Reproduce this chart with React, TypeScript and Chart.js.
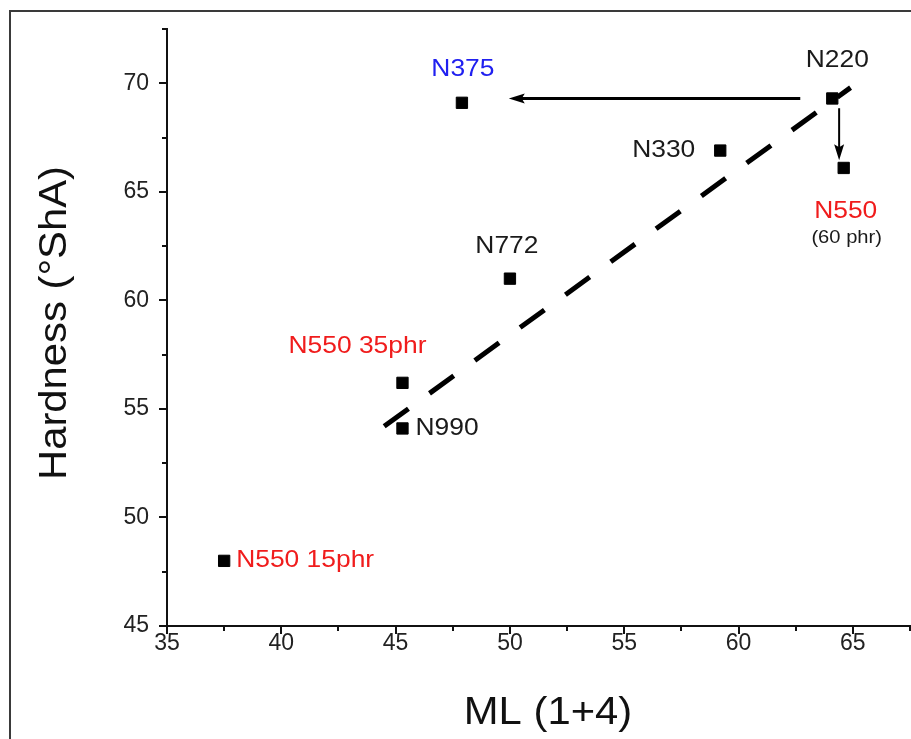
import React, { useEffect, useRef } from "react";
import { Chart, registerables } from "chart.js";

Chart.register(...registerables);

// ---- data ----
const grades = ["N220", "N375", "N330", "N550", "N772", "N550 35phr", "N990", "N550 15phr"];
const subLabels = ["", "", "", "(60 phr)", "", "", "", ""];
const mooneyML = [64.1, 47.9, 59.2, 64.6, 50.0, 45.3, 45.3, 37.5];
const hardnessShA = [69.3, 69.1, 66.9, 66.1, 61.0, 56.2, 54.1, 48.0];
const labelColors = ["#1a1a1a", "#2020f0", "#1a1a1a", "#f01c1c", "#1a1a1a", "#f01c1c", "#1a1a1a", "#f01c1c"];

const trendX = [44.5, 64.9];
const trendY = [54.2, 69.8];

const arrowFromX = [62.7, 64.4];
const arrowFromY = [69.3, 68.85];
const arrowToX = [49.95, 64.4];
const arrowToY = [69.3, 66.45];

const xTickLabels = [35, 40, 45, 50, 55, 60, 65];
const yTickLabels = [45, 50, 55, 60, 65, 70];

const xTitle = "ML (1+4)";
const yTitle = "Hardness (°ShA)";

const FONT = "'Liberation Sans', Arial, sans-serif";

// label placement relative to each point (pixels)
const labelPlacement: { dx: number; dy: number; align: CanvasTextAlign }[] = [
  { dx: 5, dy: -38, align: "center" },
  { dx: 1, dy: -33, align: "center" },
  { dx: -25, dy: 0, align: "right" },
  { dx: 2, dy: 43, align: "center" },
  { dx: -3, dy: -32, align: "center" },
  { dx: -45, dy: -36, align: "center" },
  { dx: 13, dy: 0, align: "left" },
  { dx: 12, dy: 0, align: "left" },
];

function scaledText(ctx: any, text: string, x: number, y: number, align: CanvasTextAlign, sx: number) {
  ctx.save();
  ctx.translate(x, y);
  ctx.scale(sx, 1);
  ctx.textAlign = align;
  ctx.fillText(text, 0, 0);
  ctx.restore();
}

const framePlugin = {
  id: "frame",
  beforeDraw(chart: any) {
    const ctx = chart.ctx;
    ctx.save();
    ctx.fillStyle = "#ffffff";
    ctx.fillRect(0, 0, chart.width, chart.height);
    ctx.strokeStyle = "#3a3a3a";
    ctx.lineWidth = 2;
    ctx.beginPath();
    ctx.moveTo(10, chart.height);
    ctx.lineTo(10, 11);
    ctx.lineTo(chart.width, 11);
    ctx.stroke();
    ctx.restore();
  },
};

const ticksPlugin = {
  id: "customTicks",
  afterDraw(chart: any) {
    const ctx = chart.ctx;
    const xs = chart.scales.x;
    const ys = chart.scales.y;
    const area = chart.chartArea;
    ctx.save();
    ctx.strokeStyle = "#111";
    ctx.lineWidth = 2;
    ctx.beginPath();
    for (let v = xs.min; v <= xs.max + 1e-6; v += 2.5) {
      const px = Math.round(xs.getPixelForValue(v));
      const len = Math.abs(v % 5) < 1e-6 ? 8 : 5;
      ctx.moveTo(px, area.bottom);
      ctx.lineTo(px, area.bottom + len);
    }
    for (let v = ys.min; v <= ys.max + 1e-6; v += 2.5) {
      const py = Math.round(ys.getPixelForValue(v));
      const len = Math.abs(v % 5) < 1e-6 ? 8 : 5;
      ctx.moveTo(area.left, py);
      ctx.lineTo(area.left - len, py);
    }
    ctx.stroke();

    // axis titles
    ctx.fillStyle = "#111";
    ctx.font = `38px ${FONT}`;
    ctx.textBaseline = "middle";
    scaledText(ctx, xTitle, 548, 714, "center", 1.1);
    ctx.save();
    ctx.translate(56, 323);
    ctx.rotate(-Math.PI / 2);
    scaledText(ctx, yTitle, 0, 0, "center", 1.1);
    ctx.restore();
    ctx.restore();
  },
};

const annotationPlugin = {
  id: "annotations",
  afterDatasetsDraw(chart: any) {
    const ctx = chart.ctx;
    const xs = chart.scales.x;
    const ys = chart.scales.y;
    ctx.save();
    // arrows
    const widths = [3, 2];
    for (let i = 0; i < arrowFromX.length; i++) {
      const x1 = xs.getPixelForValue(arrowFromX[i]);
      const y1 = ys.getPixelForValue(arrowFromY[i]);
      const x2 = xs.getPixelForValue(arrowToX[i]);
      const y2 = ys.getPixelForValue(arrowToY[i]);
      const ang = Math.atan2(y2 - y1, x2 - x1);
      const headLen = 16;
      const headW = 5;
      const bx = x2 - headLen * Math.cos(ang);
      const by = y2 - headLen * Math.sin(ang);
      ctx.strokeStyle = "#000";
      ctx.fillStyle = "#000";
      ctx.lineWidth = widths[i];
      ctx.beginPath();
      ctx.moveTo(x1, y1);
      ctx.lineTo(bx + 4 * Math.cos(ang), by + 4 * Math.sin(ang));
      ctx.stroke();
      ctx.beginPath();
      ctx.moveTo(x2, y2);
      ctx.lineTo(bx + headW * Math.sin(ang), by - headW * Math.cos(ang));
      ctx.lineTo(bx + 3 * Math.cos(ang), by + 3 * Math.sin(ang));
      ctx.lineTo(bx - headW * Math.sin(ang), by + headW * Math.cos(ang));
      ctx.closePath();
      ctx.fill();
    }
    // labels
    ctx.textBaseline = "middle";
    for (let i = 0; i < grades.length; i++) {
      const px = xs.getPixelForValue(mooneyML[i]);
      const py = ys.getPixelForValue(hardnessShA[i]);
      const p = labelPlacement[i];
      ctx.font = `24px ${FONT}`;
      ctx.fillStyle = labelColors[i];
      scaledText(ctx, grades[i], px + p.dx, py + p.dy, p.align, 1.1);
      if (subLabels[i]) {
        ctx.font = `18px ${FONT}`;
        ctx.fillStyle = "#1a1a1a";
        scaledText(ctx, subLabels[i], px + p.dx + 1, py + p.dy + 27, p.align, 1.12);
      }
    }
    ctx.restore();
  },
};

export default function App() {
  const ref = useRef<HTMLCanvasElement | null>(null);
  useEffect(() => {
    if (!ref.current) return;
    const chart = new Chart(ref.current, {
      type: "scatter",
      data: {
        datasets: [
          {
            type: "line",
            label: "trend",
            data: trendX.map((x, i) => ({ x, y: trendY[i] })),
            borderColor: "#000",
            borderWidth: 5,
            borderDash: [30, 26],
            borderCapStyle: "butt",
            pointRadius: 0,
            fill: false,
            order: 2,
          } as any,
          {
            label: "grades",
            data: mooneyML.map((x, i) => ({ x, y: hardnessShA[i] })),
            pointStyle: "rect",
            pointRadius: 8,
            pointBorderWidth: 1,
            backgroundColor: "#000",
            borderColor: "#000",
            order: 1,
          },
        ],
      },
      options: {
        animation: false,
        responsive: false,
        maintainAspectRatio: false,
        layout: { autoPadding: false, padding: { top: 29, right: 1, bottom: 0, left: 0 } },
        plugins: { legend: { display: false }, tooltip: { enabled: false } },
        scales: {
          x: {
            type: "linear",
            min: 35,
            max: 67.5,
            afterFit: (s: any) => {
              s.height = 113;
              s.paddingLeft = 0;
              s.paddingRight = 0;
            },
            ticks: {
              stepSize: 2.5,
              autoSkip: false,
              maxRotation: 0,
              padding: 4,
              color: "#222",
              font: { family: FONT, size: 23 },
              callback: (v: any) => (xTickLabels.includes(Number(v)) ? String(v) : ""),
            },
            grid: { display: false, drawTicks: false },
            border: { display: true, color: "#111", width: 2 },
          },
          y: {
            type: "linear",
            min: 45,
            max: 72.5,
            afterFit: (s: any) => {
              s.width = 167;
              s.paddingTop = 0;
              s.paddingBottom = 0;
            },
            ticks: {
              stepSize: 2.5,
              autoSkip: false,
              padding: 18,
              color: "#222",
              font: { family: FONT, size: 23 },
              callback: (v: any) => (yTickLabels.includes(Number(v)) ? String(v) : ""),
            },
            grid: { display: false, drawTicks: false },
            border: { display: true, color: "#111", width: 2 },
          },
        },
      },
      plugins: [framePlugin, ticksPlugin, annotationPlugin],
    });
    return () => chart.destroy();
  }, []);
  return (
    <div style={{ position: "fixed", left: 0, top: 0, width: 911, height: 739, background: "#fff" }}>
      <canvas ref={ref} width={911} height={739} style={{ display: "block" }} />
    </div>
  );
}
